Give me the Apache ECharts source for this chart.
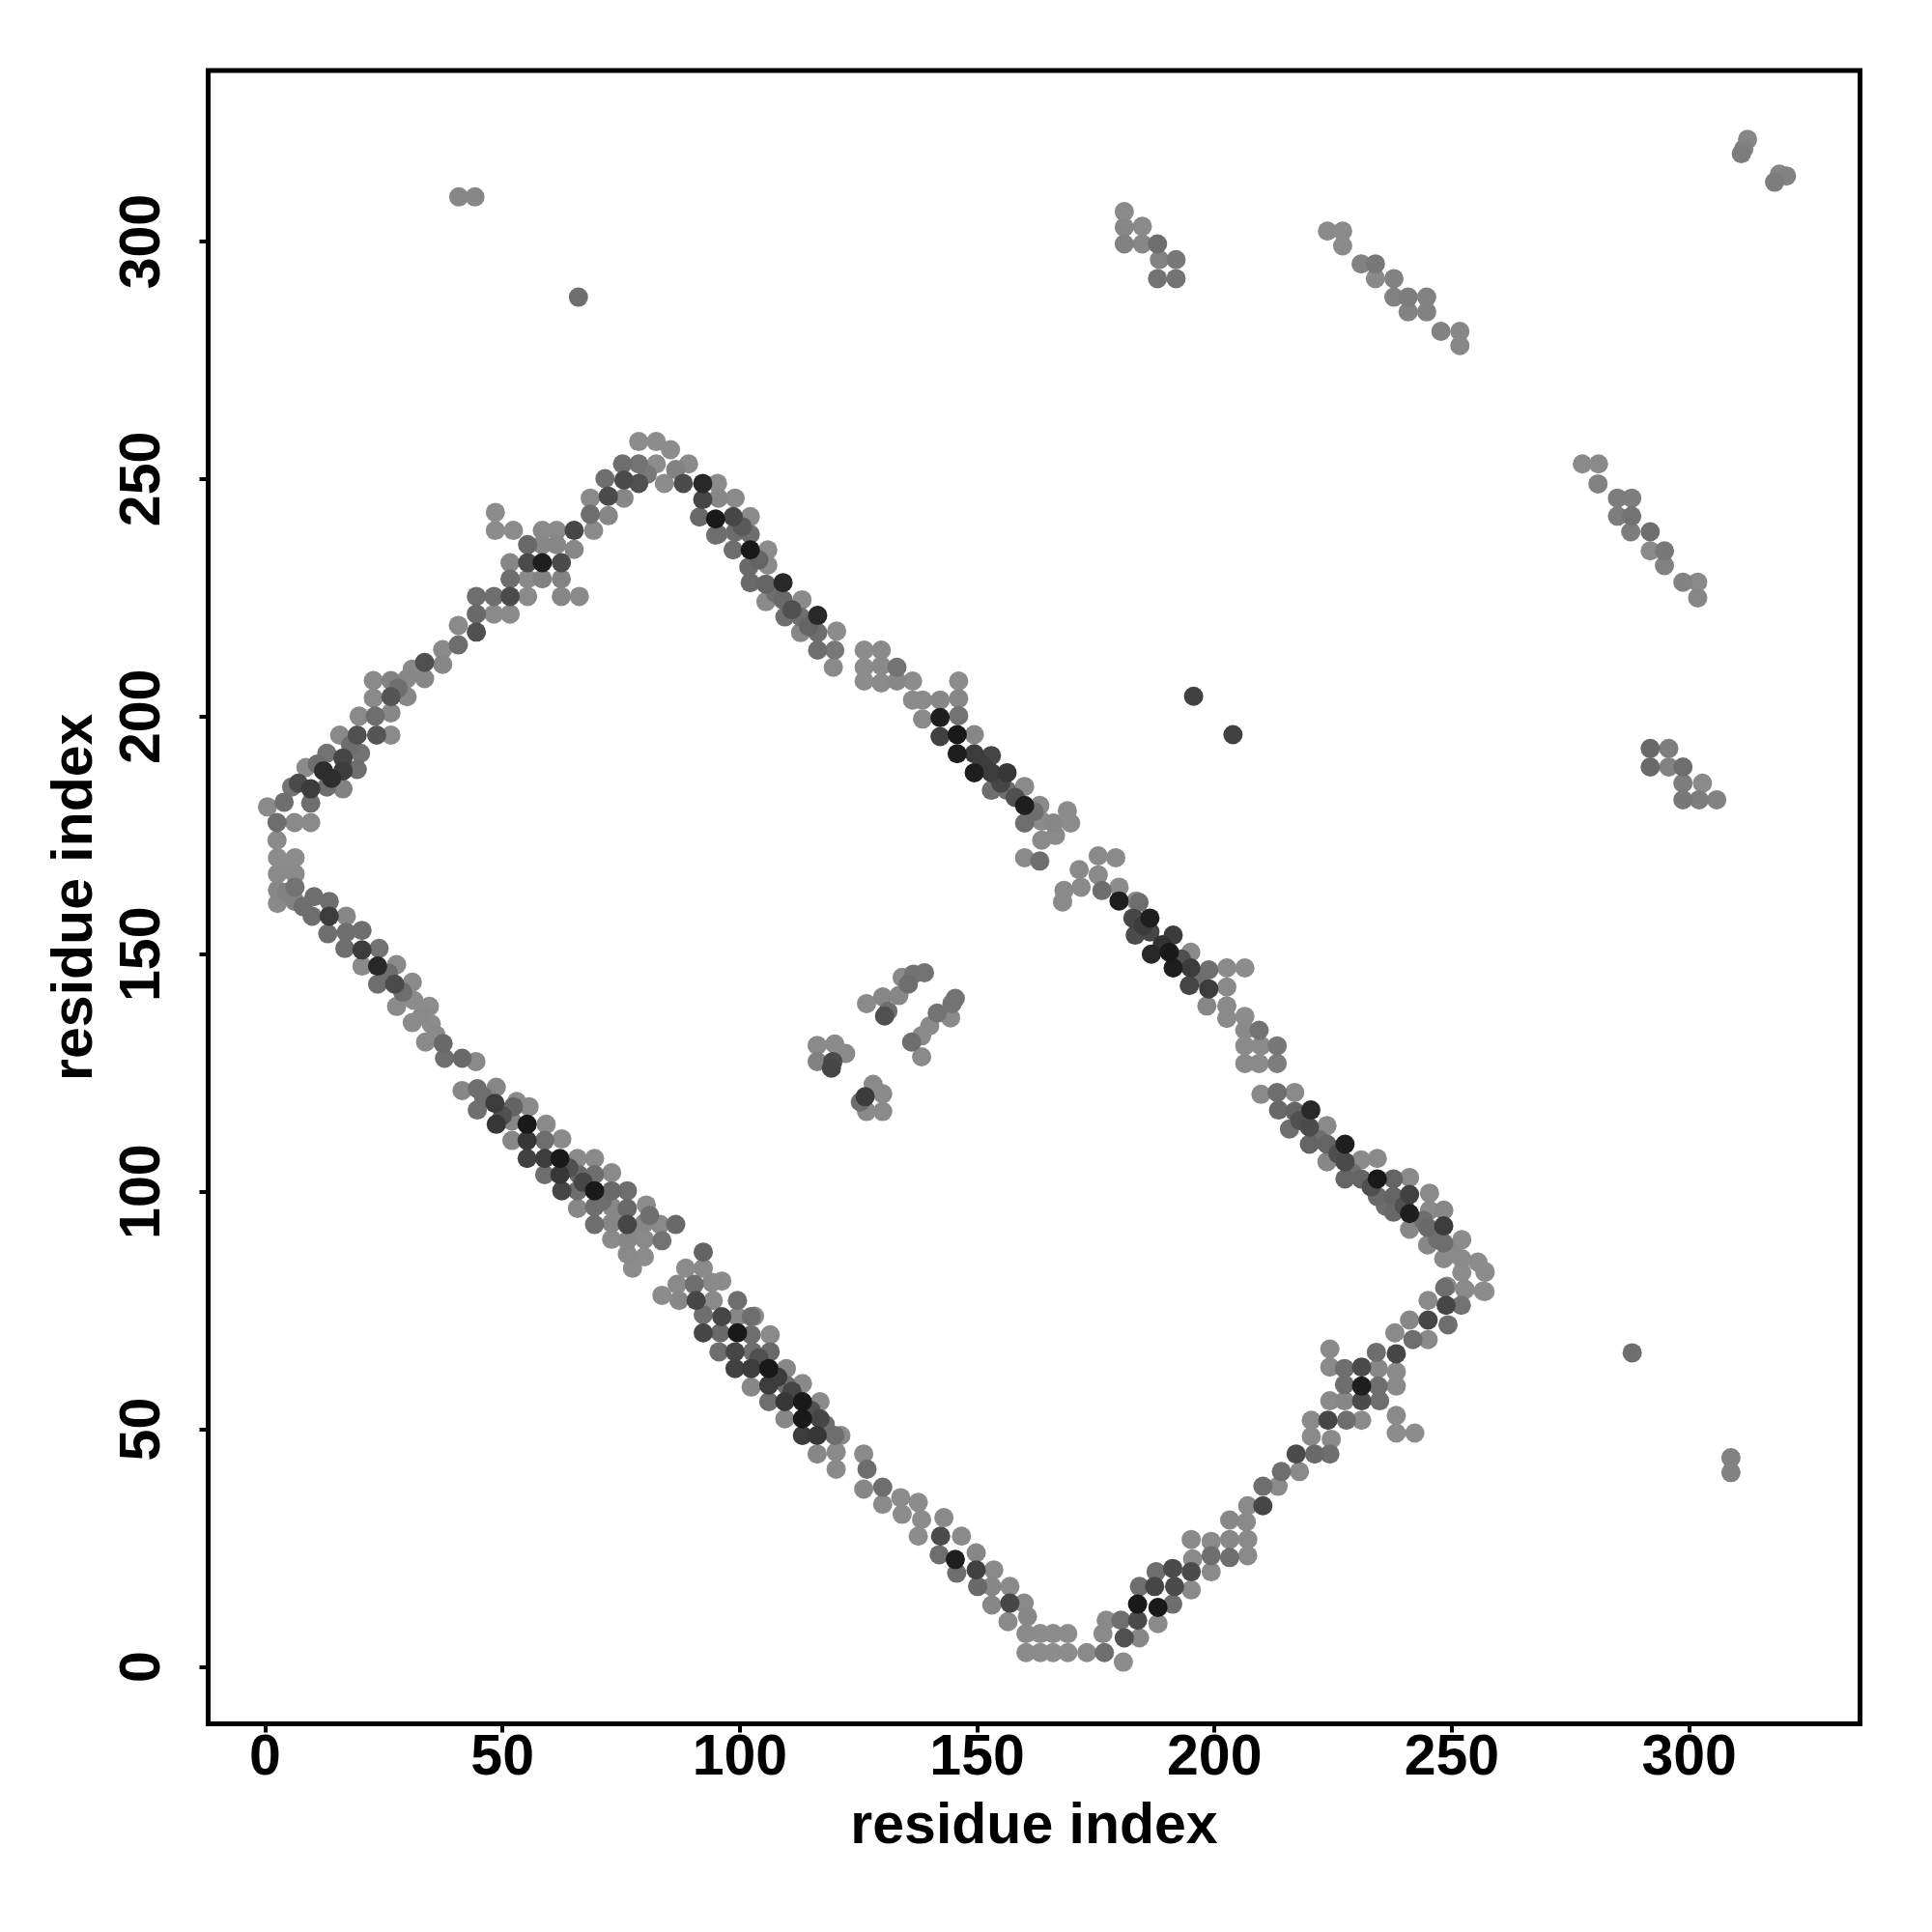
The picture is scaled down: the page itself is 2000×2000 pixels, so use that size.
<!DOCTYPE html>
<html>
<head>
<meta charset="utf-8">
<script src="https://cdn.jsdelivr.net/npm/echarts@6/dist/echarts.min.js"></script>
<style>html,body{margin:0;padding:0;background:#fff}#c{width:2000px;height:2000px}</style>
</head>
<body>
<div id="c"></div>
<script>
// Each point: [residue i, residue j, gray level 0-255 (0 = black)]
const tickValues = [0, 50, 100, 150, 200, 250, 300];
const axisTitle = 'residue index';

const upperLeftBand = [
[0.5,181,138],[2.5,177.7,110],[2.5,174,138],[6.2,177.7,138],[9.6,177.7,138],[5.6,185.2,115],[8.6,189.3,138],[9.6,184.8,60],[9.6,181.8,110],[13,185.2,110],[16.4,184.8,130],[12.3,188.6,45],[13,192.3,115],[15.7,196.1,138],[16.4,191.3,70],[16.4,188.6,60],[19.4,188.9,110],[20.1,192.3,115],[19.4,196.1,80],[23.5,196.1,85],[26.5,196.1,138],[19.8,200.1,138],[23.2,200.1,110],[26.5,200.8,135],[22.8,203.9,138],[22.8,207.6,138],[26.5,207.6,130],[29.9,208,135],[33.6,208,135],[29.9,204.2,135],[26.5,204.2,85],[33.6,211.4,80],[37.4,211,135],[37.4,214.1,138],[40.7,215.1,110],[40.7,219.2,138],[44.5,217.8,80],[44.5,221.6,105],[44.5,225.3,110],[48.2,225.3,110],[51.6,225.3,75],[48.2,221.6,138],[51.6,221.6,138],[51.6,229,110],[51.6,232.4,135],[55.3,232.4,75],[55.3,236.2,105],[55.3,229,138],[55.3,225.3,138],[58.4,232.4,30],[58.4,229,130],[62.4,232.4,75],[62.4,229,130],[62.4,225.3,135],[66.2,225.3,138],[58.4,236.2,135],[61.4,236.2,135],[58.4,239.2,138],[61.4,239.2,138],[65.1,239.2,70],[65.1,235.2,135],[69.2,239.2,138],[48.5,243,140],[48.5,239.2,140],[52.3,239.2,140],[68.5,246,138],[68.5,242.6,110],[72.3,242.3,135],[71.6,250.1,110],[72.3,246.4,75],[75.6,246,135],[75.3,253.2,110],[75.6,249.8,75],[78.7,249.1,80],[78.7,253.2,115],[78.7,257.9,140],[82.4,257.9,140],[82.4,253.2,140],[84.1,249.1,140],[85.4,256.2,140],[88.1,249.1,75],[89.2,253.2,138],[92.2,249.1,40],[92.2,245.7,70],[91.5,242,105],[94.9,241.6,25],[94.9,238.2,115],[95.3,249.1,140],
[4,182,110],[7,186,75],[11,190,110],[14,187,45],[18,194,110],[28,206,110],[31,210,138],[80.5,251,120],[86.5,252,130]
];

const upperRightBand = [
[99,246,138],[95.5,246,135],[98.6,242.1,70],[102.2,242.1,138],[95.4,238.4,110],[99,238.8,110],[102.2,238.4,110],[98.6,235.1,110],[102.2,235.1,25],[105.9,235.1,140],[101.9,231.5,105],[105.9,231.9,138],[102.2,228.2,105],[105.5,227.9,100],[109.1,228.2,40],[105.5,224.2,138],[109.1,224.6,105],[113.1,224.6,138],[109.5,221,110],[112.8,221,110],[116.4,221.3,40],[112.8,217.7,135],[116.4,217.7,110],[120.4,218,140],[116.4,214,110],[120,214,120],[119.7,210.4,138],[126.2,214,140],[129.8,214,138],[126.2,210.4,140],[129.8,210.7,138],[133.1,210.4,115],[126.2,207.5,140],[129.8,207.1,138],[133.1,207.5,135],[136.4,207.5,140],[136.4,203.5,138],[138.5,203.5,138],[138.5,199.5,138],[142.2,203.5,135],[146.1,207.5,140],[146.1,203.8,135],[146.1,200.2,115],[142.2,199.8,30],[142.2,195.8,65],[145.8,196.2,25],[149.4,196.2,135],[145.8,192.2,30],[149.4,192.2,60],[149.4,188.2,30],[153,191.8,70],[153,188.2,60],[156.3,188.2,55],[153,184.5,110],[156.3,184.5,110],[160,185.3,138],[160,181.3,30],[163.2,181.3,138],[160,177.6,110],[163.6,178,138],[163.6,174,138],[160,170.3,138],[163.2,169.6,110],[166.5,175,138],[169,180.2,140],[169.7,177.6,140],[166.1,177.6,135],
[168.3,163.4,138],[168,161,138],[171.5,167.8,138],[175.5,170.7,138],[179.2,170.3,138],[175.5,166.7,138],[171.9,164.1,138],[176.3,163.4,110],[179.9,161.2,30],[179.9,164.1,140],[183.5,161.2,138],[182.8,157.6,75],[186.4,157.6,30],[186.4,154.7,70],
[191.3,154,60],[190.5,150.4,25],[195,150.4,138],[191.3,147.1,30],[195,147.1,60],[186.7,150,40],[183.3,154,75],[183.3,157.3,70],[184.1,160.9,110],[194.7,143.4,70],[198.8,146.7,110],[198.8,142.7,60],[202.6,147.1,138],[206.4,147.1,140],[202.6,143.1,138],[198.4,139.1,135],[202.6,139.1,138],[202.6,136.5,138],[206.4,136.9,140],[206.4,134,138],[209.4,134,115],[206.4,130.7,138],[209.8,130.7,138],[213.2,130.7,120],[206.4,127,138],[209.4,127,138],[213.2,127,125],[209.8,120.5,138],[213.2,120.9,110],[216.9,120.9,138],[213.5,117.2,105],[216.9,116.9,100],[220.3,117.2,40],[215.8,113.2,110],[220,113.6,75],[223.7,113.9,138],[220,110,100],[223.7,110,100],[227.5,110,30],[223.7,106.3,135],[227.5,106.3,75],[230.9,106.7,138],[234.3,107,138],[227.5,102.7,100],[230.9,102.7,100],[234.3,102.7,25],[237.7,102.7,100],[241.1,103,138],[234.3,99,105],[237.7,99,100],[241.1,99.4,65],[245.3,99.7,138],[237.7,95.7,105],[241.1,95.4,30],[245.3,96.1,138],[248.3,96.1,135],[241.1,92.1,135],[244.9,92.5,105],[248.3,92.8,60],[248.3,89.2,110],[244.9,88.8,135],[252.1,89.9,140],[248.3,85.9,138],[252.1,85.9,138],[255.5,85.2,140],[257,83,145],[252.1,83,140],[249,80.1,138],[252.8,79.4,140],[257,79,145],
[151,190,60],[155,186,70],[158,183,80],[162,180,110],[185,156,60],[189,152,50],[193,149,80],[197,145,110],[218,115,80],[222,111,110],[226,108,80],[229,104,110],[233,101,80],[236,97,110],[240,97,80],[244,94,110],[247,90,110],[250,87,138],[100.5,240,90],[104,233,100],[107.5,226,110],[111,222.5,80],[114.5,219,100]
];

const lowerLeftBand = [
[2.6,170.3,140],[2.6,166.9,138],[2.6,163.5,135],[2.6,160.7,138],[6.3,170.3,140],[6.3,166.9,138],[6.3,164.1,115],[6.3,161.1,130],[10.3,162.1,110],[9.9,158,110],[13.5,161.1,110],[13.5,158,60],[13.2,154.3,110],[17.1,158,135],[17.1,154.6,110],[20.4,155,110],[20.4,150.9,60],[16.8,151.2,110],[24,151.2,115],[20.4,147.5,138],[23.7,147.5,40],[27.7,147.8,138],[23.7,143.7,110],[27.3,143.7,75],[31,144.1,138],[27.7,139,138],[31.3,140.3,140],[34.6,139,140],[31,135.6,140],[35,135.3,140],[33.8,131.5,138],[37.5,131.2,105],[37.8,128.1,110],[41.5,128.1,105],[44.4,127.4,138],[41.5,121.3,135],[44.7,121.7,110],[48.7,122,135],[44.7,117.2,110],[48.4,118.6,60],[52.3,117.9,100],[55.6,117.9,138],[48.7,114.2,55],[52,114.9,135],[55.2,114.2,25],[59.2,114.2,138],[52,110.8,135],[55.2,110.8,55],[58.9,110.8,110],[62.5,111.1,138],[55.2,107,65],[58.9,107,60],[62.1,107,25],[65.8,107,138],[69.4,107,138],[58.9,103.6,110],[62.1,103.6,55],[66.1,103.6,105],[69.4,103.6,110],[73,104,138],[62.5,100.2,70],[65.8,100.2,110],[69.4,100.2,25],[73,100.2,105],[76.3,100.2,110],[65.8,96.5,135],[69.4,96.8,110],[73,96.8,135],[76.3,96.5,105],[80.3,97.2,140],[69.4,93.1,110],[73,93.4,135],[76.3,93.1,70],[79.9,93.4,135],[83.2,93.1,138],[86.5,93.1,105],[73,90,138],[76.3,89.7,135],[79.9,90,138],[83.6,89.7,115],[76.3,86.9,138],[79.9,86.3,140],[77.4,83.9,140],
[92.3,87.3,100],[92.3,83.9,138],[88.6,83.9,140],[83.6,78.2,140],[86.8,80.5,138],[87.2,77.1,135],[90.4,80.5,110],[90.8,77.1,70],[94.1,80.9,138],[96.2,81.2,140],[94.4,77.1,138],[96.2,73.7,70],[99.5,77.1,110],[99.5,73.7,135],[92.3,74.1,110],[92.3,70.3,70],[95.9,70.3,105],[99.5,70.3,25],[102.4,73.7,110],
[103.1,73.8,138],[102.4,69.9,110],[106.4,69.9,138],[95.6,66.3,110],[99,66.3,70],[102.7,66.3,110],[106.4,66.3,105],[99,62.8,65],[102.4,62.8,60],[106.1,62.8,25],[109.8,62.8,135],[102.4,58.9,135],[106.1,59.3,60],[109.8,59.3,110],[113.2,59.6,138],[106.1,55.8,110],[109.5,55.8,55],[113.2,55.8,25],[116.9,55.8,138],[109.5,52.2,135],[113.2,52.2,25],[116.9,52.2,70],[113.2,48.7,60],[116.3,48.7,55],[120,48.7,110],[121.3,48.7,138],[116.3,44.8,135],[120.3,45.2,138],[120.3,41.6,138],[126.1,44.8,138],[126.8,41.6,110],[126.1,37.4,135],[130.1,37.8,110],[130.1,34.2,138],[133.9,35.6,140],[134.2,32.1,140],[137.6,34.6,140],[138.3,31,140],[137.6,27.5,140],[143,31.4,138],[142.3,27.5,75],[142,23.6,110],[146.7,27.5,138],[145.4,22.6,30],[145.7,19.7,110],[149.8,24,135],[149.8,20.4,65],[150.1,16.9,105],[153.5,20.4,138],[153.1,16.9,135],[153.1,13,135],[156.9,16.9,138],[156.9,13.4,70],[159.9,13.4,138],[156.5,9.5,138],[160.6,10.6,135],[160.3,7,138],[160.3,3,138],[163.3,7,140],[163.3,3,140],[166,7,140],[166,3,140],[169.1,7,140],[169.1,3,140],[173.1,3,138],[176.8,3,110],
[29,142,110],[33,137,138],[36,133,138],[26,146,110],[46,120,110],[50,116,80],[53,119,138],[67,102,70],[71,98,110],[75,95,138],[78,91,138],[81,95,110],[64,105,80],[104,65,80],[108,61,60],[111,58,70],[115,54,80],[118,51,110],[4.5,168,140],[4.5,163,130],[8,160,110]
];

const lowerRightBand = [
[176.5,7,138],[177.2,9.8,138],[180.8,1,140],[180.3,9.8,110],[181,6.1,80],[183.8,9.8,75],[184.2,6.1,135],[184.2,16.9,110],[183.8,13.2,25],[187.4,16.9,70],[188.1,12.5,25],[188.1,9.1,138],[191.2,13.2,110],[191.6,16.9,75],[187.7,20,110],[191.2,20.7,75],[195.1,20,75],[195.1,16.2,138],[195.4,22.7,138],[195.1,26.8,138],[199.3,26.4,138],[199.3,23.4,110],[199.3,20,138],[203.2,23,110],[203.2,26.8,135],[203.2,30.9,135],[206.7,30.5,138],[207,26.8,138],[207,23.4,138],[207,33.9,138],[210.2,33.9,70],[210.2,38,110],[213.4,38,138],[214.1,41.1,110],[217.9,41.1,138],[217.2,44.8,75],[221.1,44.8,105],[224.3,44.8,110],[220.4,48.5,138],[224.6,47.9,138],[220.4,51.9,138],[223.9,51.9,70],[227.8,51.9,110],[231,51.9,138],[224.3,56,138],[227.4,56,135],[231,56,75],[234.8,56,110],[227.4,59.4,110],[231,59.1,30],[234.5,59.1,110],[238.3,59.1,138],[227.4,62.8,110],[231,63.1,75],[234.5,62.8,135],[238.3,62.1,138],[224.3,63.1,138],[224.3,66.9,138],[234.1,66.2,110],[238.3,65.9,70],[238.3,52.9,138],[238.3,49.2,140],[242.2,49.2,140],[238,70.3,138],[241.8,68.9,110],[245,68.9,138],[241.1,73,135],[245,73,70],[249.2,72,110],[245,77.1,138],[248.8,76.1,70],[252,76.1,115],[248.5,79.8,110],[252.7,79.5,138],[256.6,79.1,140],[257,83.2,140]
];

const centerCross = [
[116.3,130.8,138],[116.3,127.4,130],[120,131.1,138],[119.6,127.4,75],[122.3,129.1,138],[119.3,126,70],[126.7,139.6,138],[130.1,141,135],[131.2,138,110],[130.5,137,80],[134.2,145.1,138],[135.5,143.7,110],[136.6,145.8,115],[138.9,146.1,115],[133.5,141.3,135],[128.1,122.6,138],[126.4,120,60],[125.4,118.9,110],[126.7,116.9,138],[130.1,116.9,138],[130.1,120.6,138],[136.2,131.5,110],[138.3,128.4,138],[138.3,132.8,138],[140,134.9,138],[141.6,137.6,115],[144.7,139.6,115],[144.4,136.6,138],[145.4,140.7,115]
];

const farContacts = [
[40.8,309.4,135],[44.2,309.4,135],[66,288.3,110],
[181,306.3,138],[181,303,135],[181,299.5,130],[184.8,303.2,138],[184.8,299.5,135],[188,299.5,110],[188.4,296.2,130],[191.9,296.2,120],[188,292.2,115],[191.9,292.2,115],
[223.8,302.2,138],[227,302.2,138],[227,299.1,138],[230.9,295.3,130],[233.9,295.3,120],[233.9,292.2,138],[237.8,292.2,130],[237.8,288.3,130],[240.8,288.3,125],[244.7,288.3,130],[240.8,285.2,130],[244.7,285.2,130],[247.7,281.1,130],[251.7,281.1,135],[251.7,278.1,135],
[312.3,321.5,135],[311.5,319.5,130],[311,318.5,125],[319,314.2,135],[318,312.5,125],[320.5,313.8,130],
[277.5,253.2,138],[280.9,253.2,138],[280.8,249,130],[284.9,246,125],[287.9,246,125],[284.9,242.2,125],[287.9,242.2,115],[287.7,238.9,125],[291.8,238.9,110],[291.8,234.9,138],[294.8,234.9,120],[294.8,231.8,130],[298.7,228.3,130],[301.8,228.3,138],[301.8,225,135],
[291.8,193.3,105],[295.7,193.3,125],[291.8,189.4,105],[295.7,189.4,130],[298.7,189.4,110],[298.7,186,125],[302.8,186,138],[298.7,182.5,120],[302.1,182.5,125],[305.8,182.5,130],
[288,66.1,110],[308.8,44,130],[308.8,40.9,130],
[195.6,204.3,65],[203.9,196.2,65]
];

const allPoints = [].concat(upperLeftBand, upperRightBand, lowerLeftBand, lowerRightBand, centerCross, farContacts)
  .slice().sort((a, b) => b[2] - a[2]);

const font = 'Liberation Sans, Arial, Helvetica, sans-serif';
const chart = echarts.init(document.getElementById('c'), null, { renderer: 'canvas' });
chart.setOption({
  animation: false,
  backgroundColor: '#ffffff',
  grid: { left: 215.5, right: 74.5, top: 73, bottom: 215.5, show: true, borderColor: '#000', borderWidth: 5, backgroundColor: 'transparent' },
  visualMap: { show: false, type: 'continuous', dimension: 2, min: 0, max: 255, inRange: { color: ['#000000', '#ffffff'] } },
  xAxis: {
    type: 'value', min: -12, max: 336,
    axisLine: { show: false, onZero: false },
    axisTick: { show: true, length: 9, lineStyle: { color: '#000', width: 4 }, customValues: tickValues },
    axisLabel: { customValues: tickValues, color: '#000', fontSize: 59, fontWeight: 'bold', fontFamily: font, margin: 7 },
    splitLine: { show: false },
    name: axisTitle, nameLocation: 'middle', nameGap: 78,
    nameTextStyle: { color: '#000', fontSize: 59, fontWeight: 'bold', fontFamily: font }
  },
  yAxis: {
    type: 'value', min: -12, max: 336,
    axisLine: { show: false, onZero: false },
    axisTick: { show: true, length: 9, lineStyle: { color: '#000', width: 4 }, customValues: tickValues },
    axisLabel: { customValues: tickValues, rotate: 90, color: '#000', fontSize: 59, fontWeight: 'bold', fontFamily: font, margin: 37 },
    splitLine: { show: false },
    name: axisTitle, nameLocation: 'middle', nameGap: 107, nameRotate: 90,
    nameTextStyle: { color: '#000', fontSize: 59, fontWeight: 'bold', fontFamily: font }
  },
  series: [{
    type: 'scatter',
    symbol: 'circle',
    symbolSize: 20,
    itemStyle: { opacity: 1 },
    emphasis: { disabled: true },
    data: allPoints
  }]
});
</script>
</body>
</html>
